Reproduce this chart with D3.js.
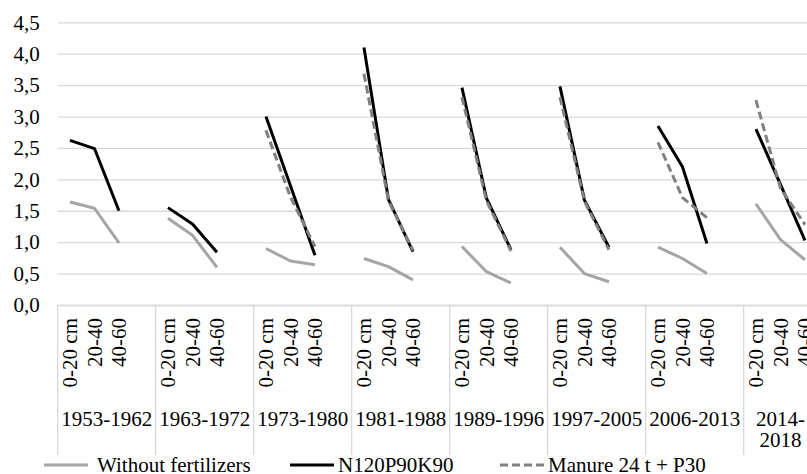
<!DOCTYPE html>
<html>
<head>
<meta charset="utf-8">
<script src="https://cdn.jsdelivr.net/npm/d3@7"></script>
<style>
  body { margin: 0; background: #fff; }
</style>
</head>
<body>
<svg id="chart" width="807" height="474"></svg>
<script>
// data
const periods = ["1953-1962", "1963-1972", "1973-1980", "1981-1988", "1989-1996", "1997-2005", "2006-2013", "2014-2018"];
const periodLabels = [["1953-1962"], ["1963-1972"], ["1973-1980"], ["1981-1988"], ["1989-1996"], ["1997-2005"], ["2006-2013"], ["2014-", "2018"]];
const depths = ["0-20 cm", "20-40", "40-60"];
const yTicks = [0, 0.5, 1, 1.5, 2, 2.5, 3, 3.5, 4, 4.5];

const noFertilizer = [[1.64, 1.54, 0.99], [1.38, 1.11, 0.60], [0.90, 0.70, 0.64], [0.74, 0.61, 0.40],
                      [0.93, 0.53, 0.35], [0.92, 0.50, 0.37], [0.92, 0.74, 0.50], [1.61, 1.04, 0.72]];
const npk = [[2.62, 2.49, 1.50], [1.55, 1.29, 0.84], [3.00, 1.90, 0.79], [4.10, 1.68, 0.85],
             [3.46, 1.70, 0.88], [3.48, 1.67, 0.92], [2.85, 2.20, 0.98], [2.80, 1.92, 1.03]];
const manure = [null, null, [2.78, 1.72, 0.93], [3.68, 1.66, 0.87],
                [3.31, 1.66, 0.86], [3.31, 1.65, 0.88], [2.59, 1.71, 1.39], [3.26, 1.86, 1.28]];

const seriesNames = ["Without fertilizers", "N120P90K90", "Manure 24 t + P30"];
const seriesData = [noFertilizer, npk, manure];
const seriesStyle = [
  { color: "#a5a5a5", dash: null },
  { color: "#000000", dash: null },
  { color: "#808080", dash: "8,4" }
];

// layout
const svg = d3.select("#chart");
const FONT = '"Liberation Serif", "Times New Roman", serif';
const fontSize = 21;
const plotLeft = 57.7, plotTop = 22.3, plotBottom = 305, slotW = 24.5;

const serif = sel => sel.style("font-family", FONT).style("font-size", fontSize + "px").style("fill", "#000");

// each period gets 3 depth slots, with an empty slot between periods
const slots = [];
periods.forEach((p, g) => {
  depths.forEach((d, i) => slots.push(g + "|" + i));
  if (g < periods.length - 1) slots.push(g + "|gap");
});
const plotRight = plotLeft + slots.length * slotW;

const x = d3.scaleBand().domain(slots).range([plotLeft, plotRight]).padding(0);
const y = d3.scaleLinear().domain([0, 4.5]).range([plotBottom, plotTop]);
const cx = s => x(s) + x.bandwidth() / 2;

// gridlines
const grid = svg.append("g").attr("transform", `translate(${plotLeft},0)`)
  .call(d3.axisLeft(y).tickValues(yTicks).tickSize(-(plotRight - plotLeft)).tickFormat(""));
grid.select(".domain").remove();
grid.selectAll("line").attr("stroke", "#d9d9d9").attr("stroke-width", 1.3);

// y labels
const yAxis = svg.append("g").attr("transform", `translate(${plotLeft},0)`)
  .call(d3.axisLeft(y).tickValues(yTicks).tickSize(0).tickPadding(18)
    .tickFormat(v => d3.format(".1f")(v).replace(".", ",")));
yAxis.select(".domain").remove();
yAxis.selectAll("text").call(serif);

// x axis: depth labels (rotated)
const xAxis = svg.append("g").attr("transform", `translate(0,${plotBottom})`)
  .call(d3.axisBottom(x).tickSize(0)
    .tickFormat(s => { const i = s.split("|")[1]; return i === "gap" ? "" : depths[+i]; }));
xAxis.select(".domain").attr("stroke", "#d9d9d9").attr("stroke-width", 1.3);
xAxis.selectAll("text").call(serif)
  .attr("y", 0).attr("x", -13).attr("dy", "0.35em")
  .attr("transform", "rotate(-90)")
  .style("text-anchor", "end");

// period separators and labels
const groupStart = periods.map((p, g) => x(g + "|0"));
const groupEnd = periods.map((p, g) => g < periods.length - 1 ? groupStart[g + 1] : plotRight);

svg.append("g").selectAll("line").data(groupStart).join("line")
  .attr("x1", d => d).attr("x2", d => d)
  .attr("y1", plotBottom).attr("y2", 455)
  .attr("stroke", "#d9d9d9").attr("stroke-width", 1.3);

svg.append("g").selectAll("text").data(periodLabels).join("text")
  .call(serif)
  .attr("text-anchor", "middle")
  .each(function (lines, g) {
    const mid = (groupStart[g] + groupEnd[g]) / 2;
    d3.select(this).selectAll("tspan").data(lines).join("tspan")
      .attr("x", mid).attr("y", (d, i) => 426 + i * 21).text(d => d);
  });

// series lines, broken between periods
const line = d3.line().defined(d => d.v != null).x(d => cx(d.slot)).y(d => y(d.v));

seriesData.forEach((data, k) => {
  const pts = [];
  periods.forEach((p, g) => {
    depths.forEach((d, i) => pts.push({ slot: g + "|" + i, v: data[g] ? data[g][i] : null }));
    if (g < periods.length - 1) pts.push({ slot: g + "|gap", v: null });
  });
  svg.append("path").datum(pts)
    .attr("d", line)
    .attr("fill", "none")
    .attr("stroke", seriesStyle[k].color)
    .attr("stroke-width", 3)
    .attr("stroke-dasharray", seriesStyle[k].dash)
    .attr("stroke-linejoin", "round");
});

// legend
const legendLineX = [44, 290, 500];
const legendTextX = [97, 338, 548];
const legend = svg.append("g");
seriesNames.forEach((name, k) => {
  legend.append("line")
    .attr("x1", legendLineX[k]).attr("x2", legendLineX[k] + 44)
    .attr("y1", 465).attr("y2", 465)
    .attr("stroke", seriesStyle[k].color).attr("stroke-width", 3)
    .attr("stroke-dasharray", seriesStyle[k].dash);
  legend.append("text")
    .call(serif)
    .attr("x", legendTextX[k]).attr("y", 472)
    .text(name);
});
</script>
</body>
</html>
